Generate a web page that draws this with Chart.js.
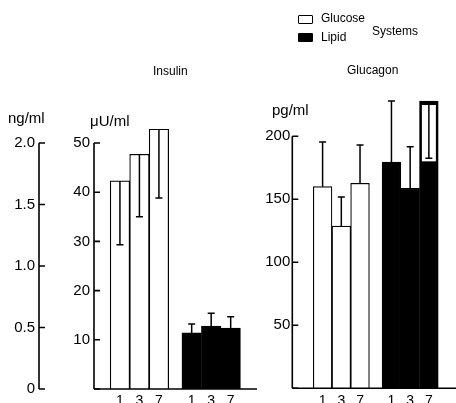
<!DOCTYPE html>
<html><head><meta charset="utf-8">
<script src="https://cdn.jsdelivr.net/npm/chart.js@4.4.0/dist/chart.umd.min.js"></script>
<style>
html,body{margin:0;padding:0;background:#fff;width:456px;height:403px;overflow:hidden;font-family:"Liberation Sans",Arial,sans-serif;}
.t{position:absolute;white-space:nowrap;color:#000;line-height:1;}
canvas{position:absolute;top:0;}
</style></head><body>
<canvas id="ins" width="257" height="403" style="left:0;width:257px;height:403px"></canvas>
<canvas id="glu" width="216" height="403" style="left:240px;width:216px;height:403px"></canvas>
<div class="t" style="left:298px;top:15px;width:15px;height:9px;border:1.5px solid #000;box-sizing:border-box;border-radius:1px"></div>
<div class="t" style="left:298px;top:33px;width:15px;height:9px;background:#000;border-radius:1px"></div>
<div class="t" style="left:321px;top:12px;font-size:12px">Glucose</div>
<div class="t" style="left:321px;top:31px;font-size:12px">Lipid</div>
<div class="t" style="left:372px;top:25px;font-size:12px">Systems</div>
<div class="t" style="left:153px;top:65px;font-size:12px">Insulin</div>
<div class="t" style="left:347px;top:64px;font-size:12px">Glucagon</div>
<div class="t" style="left:8px;top:110px;font-size:15px">ng/ml</div>
<div class="t" style="left:90px;top:113px;font-size:15px">μU/ml</div>
<div class="t" style="left:272px;top:102px;font-size:15px">pg/ml</div>
<script>
// ---- data ----
const days = ['1', '3', '7'];
const insulinGlucose = [42.3, 47.7, 52.8];
const insulinGlucoseErr = [29.3, 35.0, 38.8];   // error-bar end values
const insulinLipid = [11.4, 12.8, 12.4];
const insulinLipidErr = [13.2, 15.4, 14.7];
const glucagonGlucose = [160, 128.8, 162.7];
const glucagonGlucoseErr = [195.5, 151.8, 193];
const glucagonLipid = [179.5, 158.7, 228];
const glucagonLipidErr = [228, 191.7, 182.5];
const ngTicks = [0, 0.5, 1.0, 1.5, 2.0];
const ngTickLabels = ['0', '0.5', '1.0', '1.5', '2.0'];
const uuTicks = [10, 20, 30, 40, 50];
const pgTicks = [50, 100, 150, 200];

// ---- layout helpers ----
const GROUP_STRIDE = 3.68;
const slotPos = (g, i) => i + 1 + g * GROUP_STRIDE;
const xTickValues = [0, 1].flatMap(g => days.map((d, i) => slotPos(g, i)));
const xTickLabels = [...days, ...days];
const toPts = (vals, g) => vals.map((v, i) => ({ x: slotPos(g, i), y: v }));

const errPlugin = {
  id: 'err',
  afterDatasetsDraw(chart) {
    const ctx = chart.ctx;
    chart.data.datasets.forEach((ds, di) => {
      const meta = chart.getDatasetMeta(di);
      const ys = chart.scales[meta.yAxisID];
      meta.data.forEach((bar, i) => {
        const v = ds.data[i].y, e = ds.errEnds[i];
        const yT = bar.y, yE = ys.getPixelForValue(e);
        ctx.save();
        if (ds.dark && e < v) {
          ctx.fillStyle = '#fff';
          ctx.fillRect(bar.x - 7, yT + 4, 14, yE - yT - 1);
        }
        ctx.strokeStyle = '#000';
        ctx.lineWidth = 1.5;
        ctx.beginPath();
        ctx.moveTo(bar.x, yT); ctx.lineTo(bar.x, yE);
        ctx.moveTo(bar.x - 3.5, yE); ctx.lineTo(bar.x + 3.5, yE);
        ctx.stroke();
        ctx.restore();
      });
    });
  }
};

function axesPlugin(axes) {
  return {
    id: 'axes',
    afterDatasetsDraw(chart) {
      const ctx = chart.ctx, ca = chart.chartArea;
      ctx.save();
      ctx.strokeStyle = '#000';
      ctx.lineWidth = 1.6;
      axes.forEach(a => {
        const s = chart.scales[a.id];
        const x = a.atChart ? ca.left : s.right;
        ctx.beginPath();
        ctx.moveTo(x, s.getPixelForValue(0));
        ctx.lineTo(x, s.getPixelForValue(a.ticks[a.ticks.length - 1]));
        a.ticks.forEach(t => {
          const y = s.getPixelForValue(t);
          ctx.moveTo(x, y); ctx.lineTo(x + 6, y);
        });
        ctx.stroke();
      });
      const y0 = chart.scales.y.getPixelForValue(0);
      ctx.beginPath();
      ctx.moveTo(ca.left, y0); ctx.lineTo(ca.right, y0);
      ctx.stroke();
      ctx.restore();
    }
  };
}

const tickFont = { family: '"Liberation Sans", Arial, sans-serif', size: 15 };
function yAxis(min, max, ticks, labels, width, weight, pad) {
  return {
    position: 'left', min, max, weight,
    afterBuildTicks: s => { s.ticks = ticks.map(v => ({ value: v })); },
    afterFit: s => { s.width = width; },
    grid: { display: false, drawTicks: false },
    border: { display: false },
    ticks: { padding: pad, color: '#000', font: tickFont, autoSkip: false,
      callback: (v, i) => labels[i] }
  };
}
function xAxis(min, max, height) {
  return {
    type: 'linear', min, max, offset: false,
    afterBuildTicks: s => { s.ticks = xTickValues.map(v => ({ value: v })); },
    afterFit: s => { s.height = height; },
    grid: { display: false, drawTicks: false },
    border: { display: false },
    ticks: { padding: 4, color: '#000', autoSkip: false, maxRotation: 0,
      font: { family: '"Liberation Sans", Arial, sans-serif', size: 14 },
      callback: (v, i) => xTickLabels[i] }
  };
}
function barDs(label, vals, errs, g, dark) {
  return {
    label, data: toPts(vals, g), errEnds: errs, dark,
    xAxisID: 'x', yAxisID: 'y',
    backgroundColor: dark ? '#000' : '#fff', borderColor: '#000',
    borderWidth: 1.2, borderSkipped: 'start',
    barPercentage: 1, categoryPercentage: 1, grouped: false
  };
}
const common = {
  responsive: false, animation: false, devicePixelRatio: 1,
  plugins: { legend: { display: false }, tooltip: { enabled: false } }
};

new Chart(document.getElementById('ins'), {
  type: 'bar',
  data: { datasets: [
    barDs('Glucose', insulinGlucose, insulinGlucoseErr, 0, false),
    barDs('Lipid', insulinLipid, insulinLipidErr, 1, true)
  ] },
  options: { ...common,
    layout: { padding: { top: 118.4, left: 0, right: 0, bottom: 0 } },
    scales: {
      x: xAxis(-0.33, 8.03, 14),
      y: yAxis(0, 55, uuTicks, uuTicks.map(String), 55, 0, 4),
      ng: yAxis(0, 2.2, ngTicks, ngTickLabels, 39, 1, 4)
    }
  },
  plugins: [errPlugin, axesPlugin([
    { id: 'ng', ticks: ngTicks, atChart: false },
    { id: 'y', ticks: [0, ...uuTicks], atChart: true }
  ])]
});

new Chart(document.getElementById('glu'), {
  type: 'bar',
  data: { datasets: [
    barDs('Glucose', glucagonGlucose, glucagonGlucoseErr, 0, false),
    barDs('Lipid', glucagonLipid, glucagonLipidErr, 1, true)
  ] },
  options: { ...common,
    layout: { padding: { top: 98.5, left: 0, right: 0, bottom: 0 } },
    scales: {
      x: xAxis(-0.62, 8.13, 14.7),
      y: yAxis(0, 230, pgTicks, pgTicks.map(String), 52.3, 0, 2)
    }
  },
  plugins: [errPlugin, axesPlugin([
    { id: 'y', ticks: [0, ...pgTicks], atChart: true }
  ])]
});
</script>
</body></html>
